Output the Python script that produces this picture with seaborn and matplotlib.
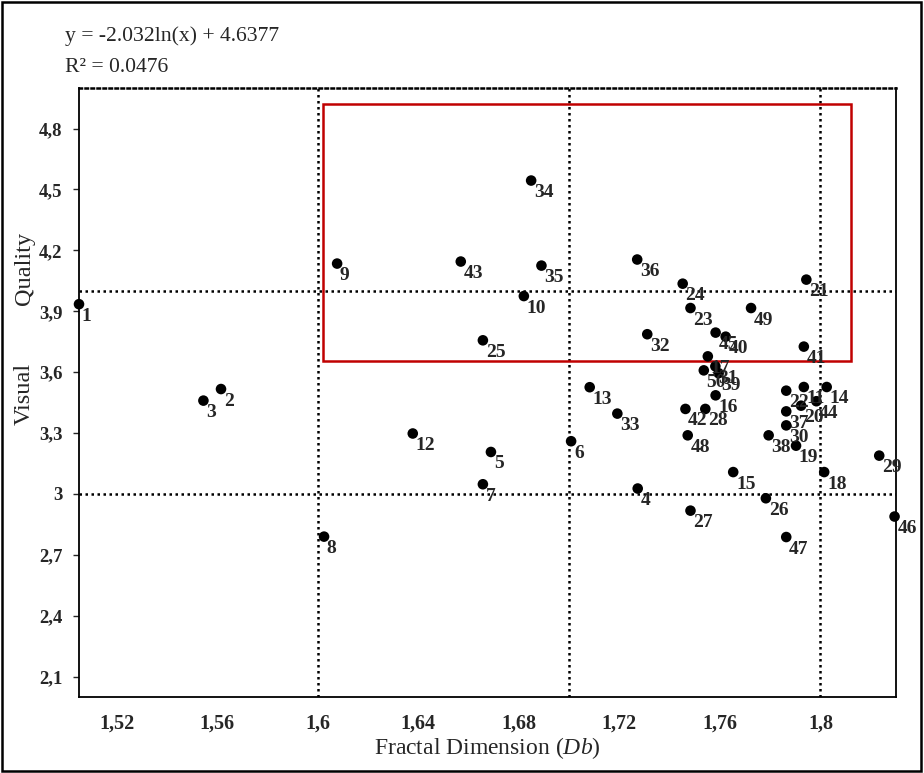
import pandas as pd
import matplotlib
matplotlib.use("Agg")
import matplotlib.pyplot as plt
import matplotlib.patches as patches
import seaborn as sns

# sample ids and values
ids = list(range(1, 51))
db = [1.505, 1.5615, 1.5545, 1.7273, 1.6689, 1.7008, 1.6657, 1.6025, 1.6077, 1.682,
      1.7934, 1.6378, 1.7082, 1.8025, 1.7653, 1.7583, 1.7552, 1.8015, 1.7903, 1.7923,
      1.7944, 1.7864, 1.7483, 1.7452, 1.6657, 1.7783, 1.7483, 1.7542, 1.8234, 1.7864,
      1.7582, 1.7311, 1.7192, 1.6849, 1.689, 1.7271, 1.7864, 1.7794, 1.7595, 1.7623,
      1.7934, 1.7463, 1.6569, 1.7984, 1.7583, 1.8295, 1.7864, 1.7472, 1.7724, 1.7536]
vq = [3.935, 3.517, 3.46, 3.027, 3.207, 3.26, 3.048, 2.79, 4.135, 3.975,
      3.527, 3.298, 3.526, 3.527, 3.108, 3.486, 3.678, 3.108, 3.238, 3.435,
      4.056, 3.509, 3.916, 4.036, 3.757, 2.979, 2.918, 3.419, 3.189, 3.338,
      3.629, 3.787, 3.396, 4.544, 4.125, 4.155, 3.407, 3.289, 3.595, 3.775,
      3.726, 3.419, 4.145, 3.457, 3.795, 2.889, 2.788, 3.289, 3.916, 3.609]

x_ticks = [1.52, 1.56, 1.6, 1.64, 1.68, 1.72, 1.76, 1.8]
x_tick_labels = ["1,52", "1,56", "1,6", "1,64", "1,68", "1,72", "1,76", "1,8"]
y_ticks = [2.1, 2.4, 2.7, 3.0, 3.3, 3.6, 3.9, 4.2, 4.5, 4.8]
y_tick_labels = ["2,1", "2,4", "2,7", "3", "3,3", "3,6", "3,9", "4,2", "4,5", "4,8"]

# highlighted zone (red box)
box_x = [1.602, 1.812]
box_y = [3.655, 4.92]

df = pd.DataFrame({"id": ids, "Db": db, "VQ": vq})

sns.set_style("white")
plt.rcParams["font.family"] = ["Liberation Serif", "DejaVu Serif"]
plt.rcParams["mathtext.fontset"] = "custom"
plt.rcParams["mathtext.rm"] = "Liberation Serif"
plt.rcParams["mathtext.it"] = "Liberation Serif:italic"

fig = plt.figure(figsize=(9.24, 7.73), dpi=100)
ax = fig.add_axes([0.0855, 0.0983, 0.884, 0.7879])

dot = (0, (1, 1.4))
for xv in [1.6, 1.7, 1.8]:
    ax.axvline(xv, color="black", lw=1.8, linestyle=dot, zorder=1)
for yv in [3.0, 4.0]:
    ax.axhline(yv, color="black", lw=1.8, linestyle=dot, zorder=1)

ax.add_patch(patches.Rectangle((box_x[0], box_y[0]), box_x[1] - box_x[0], box_y[1] - box_y[0],
                               fill=False, edgecolor="#C00000", lw=1.8, zorder=2))

sns.scatterplot(data=df, x="Db", y="VQ", ax=ax, color="black", s=58,
                edgecolor="none", zorder=3, clip_on=False)

for i, x, y in zip(df["id"], df["Db"], df["VQ"]):
    ax.annotate(str(i), (x, y), xytext=(2, -2.5), textcoords="offset points",
                ha="left", va="top", fontsize=14, fontweight="bold",
                color="#262626", zorder=4, annotation_clip=False)

ax.set_xlim(1.505, 1.83)
ax.set_ylim(2.0, 5.0)
ax.set_xticks(x_ticks)
ax.set_xticklabels(x_tick_labels, fontsize=14.5, fontweight="bold")
ax.set_yticks(y_ticks)
ax.set_yticklabels(y_tick_labels, fontsize=13.5, fontweight="bold")
ax.tick_params(axis="x", length=0, pad=12)
ax.tick_params(axis="y", length=4, width=1, direction="out", left=True, pad=8)

for side in ["left", "right", "bottom"]:
    ax.spines[side].set_color("black")
    ax.spines[side].set_linewidth(1.3)
ax.spines["top"].set_color("black")
ax.spines["top"].set_linewidth(1.8)
ax.spines["top"].set_linestyle(dot)

ax.set_xlabel("Fractal Dimension ($\\mathit{Db}$)", fontsize=17, labelpad=1)
ax.set_ylabel("")
fig.text(0.026, 0.49, "Visual", rotation=90, ha="center", va="center", fontsize=17.5)
fig.text(0.026, 0.653, "Quality", rotation=90, ha="center", va="center", fontsize=17.5)

fig.text(0.07, 0.9534, "y = -2.032ln(x) + 4.6377", ha="left", va="center", fontsize=15.6)
fig.text(0.07, 0.9133, "R² = 0.0476", ha="left", va="center", fontsize=15.6)

# outer frame
fig.patches.append(patches.Rectangle((0.002, 0.003), 0.995, 0.994, transform=fig.transFigure,
                                     fill=False, edgecolor="black", lw=1.8))

fig.savefig("out.png", dpi=100)
